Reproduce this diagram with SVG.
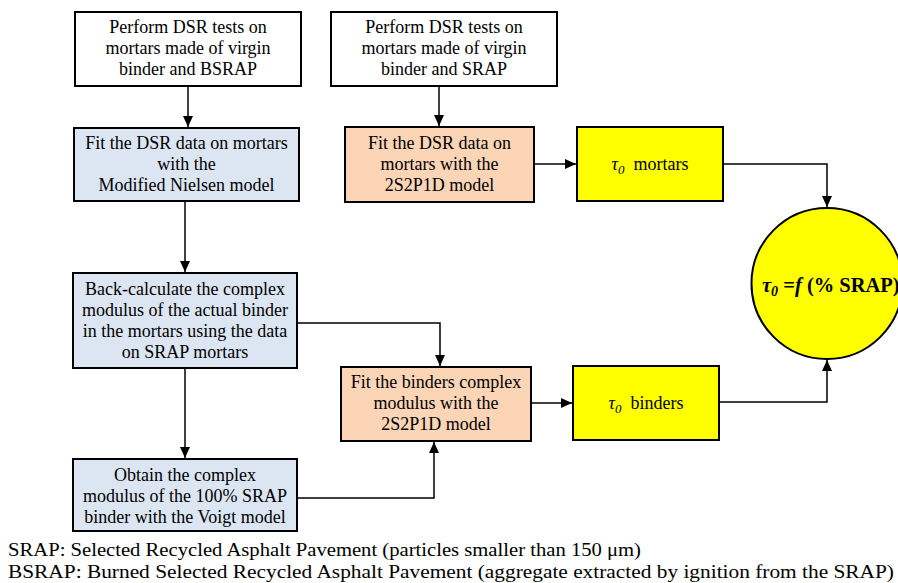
<svg xmlns="http://www.w3.org/2000/svg" width="898" height="583" viewBox="0 0 898 583">
<style>
.box{stroke:#000;stroke-width:2}
.w{fill:#fff}
.b{fill:#dce6f2}
.o{fill:#fbd5b5}
.y{fill:#ffff00}
.t{font-family:"Liberation Serif","Times New Roman",serif;font-size:18px;fill:#000;text-anchor:middle}
.f{font-family:"Liberation Serif","Times New Roman",serif;font-size:19.5px;fill:#000}
.c{fill:none;stroke:#000;stroke-width:1.5}
</style>
<defs>
<marker id="ah" markerUnits="userSpaceOnUse" markerWidth="12" markerHeight="12" viewBox="0 0 12 12" refX="11" refY="6" orient="auto">
<path d="M0,1 L11,6 L0,11 Z" fill="#000"/>
</marker>
</defs>
<g id="connectors">
<path class="c" d="M188,86 V127" marker-end="url(#ah)"/>
<path class="c" d="M439,86 V126" marker-end="url(#ah)"/>
<path class="c" d="M185,201 V272" marker-end="url(#ah)"/>
<path class="c" d="M534,164 H576" marker-end="url(#ah)"/>
<path class="c" d="M723,164 H827 V207" marker-end="url(#ah)"/>
<path class="c" d="M297,323 H440 V366" marker-end="url(#ah)"/>
<path class="c" d="M185,368 V458" marker-end="url(#ah)"/>
<path class="c" d="M297,498 H434 V442" marker-end="url(#ah)"/>
<path class="c" d="M531,403 H572" marker-end="url(#ah)"/>
<path class="c" d="M719,402 H827 V360" marker-end="url(#ah)"/>
</g>
<g id="n1">
<rect class="box w" x="75" y="12" width="226" height="74"/>
<text class="t" x="188" y="33">Perform DSR tests on</text>
<text class="t" x="188" y="54">mortars made of virgin</text>
<text class="t" x="188" y="75">binder and BSRAP</text>
</g>
<g id="n2">
<rect class="box w" x="331" y="12" width="226" height="74"/>
<text class="t" x="444" y="33">Perform DSR tests on</text>
<text class="t" x="444" y="54">mortars made of virgin</text>
<text class="t" x="444" y="75">binder and SRAP</text>
</g>
<g id="n3">
<rect class="box b" x="74" y="128" width="225" height="73"/>
<text class="t" x="186.5" y="149">Fit the DSR data on mortars</text>
<text class="t" x="186.5" y="170">with the</text>
<text class="t" x="186.5" y="191">Modified Nielsen model</text>
</g>
<g id="n4">
<rect class="box o" x="345" y="127" width="189" height="75"/>
<text class="t" x="439.5" y="149">Fit the DSR data on</text>
<text class="t" x="439.5" y="170">mortars with the</text>
<text class="t" x="439.5" y="191">2S2P1D model</text>
</g>
<g id="n5">
<rect class="box y" x="577" y="127" width="146" height="74"/>
<text class="t" x="650" y="170"><tspan font-style="italic">τ</tspan><tspan font-style="italic" font-size="13" dy="4">0</tspan><tspan dy="-4" xml:space="preserve">  mortars</tspan></text>
</g>
<g id="n6">
<circle class="box y" cx="827" cy="283.5" r="75.5"/>
<text x="762" y="292" font-family="'Liberation Serif','Times New Roman',serif" font-size="20.5" font-weight="bold" fill="#000"><tspan font-style="italic">τ</tspan><tspan font-style="italic" font-size="14" dy="4">0</tspan><tspan dy="-4"> =</tspan><tspan font-style="italic">f</tspan><tspan> (% SRAP)</tspan></text>
</g>
<g id="n7">
<rect class="box b" x="73" y="273" width="224" height="95"/>
<text class="t" x="185" y="295">Back-calculate the complex</text>
<text class="t" x="185" y="316">modulus of the actual binder</text>
<text class="t" x="185" y="337">in the mortars using the data</text>
<text class="t" x="185" y="358">on SRAP mortars</text>
</g>
<g id="n8">
<rect class="box o" x="341" y="367" width="190" height="74"/>
<text class="t" x="436" y="388">Fit the binders complex</text>
<text class="t" x="436" y="409">modulus with the</text>
<text class="t" x="436" y="430">2S2P1D model</text>
</g>
<g id="n9">
<rect class="box y" x="573" y="366" width="146" height="74"/>
<text class="t" x="646" y="409"><tspan font-style="italic">τ</tspan><tspan font-style="italic" font-size="13" dy="4">0</tspan><tspan dy="-4" xml:space="preserve">  binders</tspan></text>
</g>
<g id="n10">
<rect class="box b" x="73" y="459" width="224" height="72"/>
<text class="t" x="185" y="481">Obtain the complex</text>
<text class="t" x="185" y="502">modulus of the 100% SRAP</text>
<text class="t" x="185" y="523">binder with the Voigt model</text>
</g>
<g id="legend">
<text class="f" x="8" y="556" textLength="633" lengthAdjust="spacingAndGlyphs">SRAP: Selected Recycled Asphalt Pavement (particles smaller than 150 μm)</text>
<text class="f" x="8" y="578" textLength="886" lengthAdjust="spacingAndGlyphs">BSRAP: Burned Selected Recycled Asphalt Pavement (aggregate extracted by ignition from the SRAP)</text>
</g>
</svg>
